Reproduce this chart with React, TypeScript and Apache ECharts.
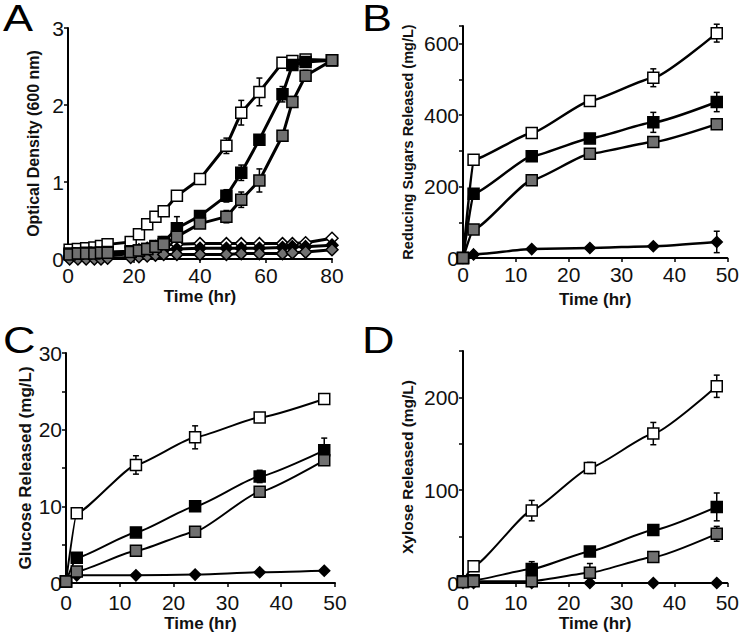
import React, { useEffect, useRef } from "react";
import * as echarts from "echarts";

const FONT = "Liberation Sans, Arial, Helvetica, sans-serif";

// ---------- Panel A: optical density ----------
const timeA = [0.5, 3, 5.5, 8, 10, 12, 19, 21.5, 24, 26.5, 29, 33, 40, 48, 52.5, 58, 65, 68, 72, 80];
const odOpenSq = [0.12, 0.13, 0.14, 0.15, 0.17, 0.19, 0.22, 0.32, 0.45, 0.55, 0.62, 0.82, 1.04, 1.47, 1.9, 2.17, 2.55, 2.57, 2.59, 2.58];
const odBlackSq = [0.07, 0.07, 0.08, 0.08, 0.08, 0.09, 0.1, 0.11, 0.13, 0.17, 0.22, 0.4, 0.56, 0.82, 1.12, 1.55, 2.14, 2.52, 2.56, 2.58];
const odGraySq = [0.06, 0.07, 0.07, 0.07, 0.08, 0.08, 0.09, 0.11, 0.13, 0.16, 0.19, 0.29, 0.46, 0.55, 0.77, 1.02, 1.6, 2.04, 2.38, 2.58];
const odOpenDia = [0.04, 0.04, 0.05, 0.05, 0.06, 0.06, 0.1, 0.12, 0.14, 0.16, 0.18, 0.19, 0.2, 0.2, 0.2, 0.2, 0.2, 0.2, 0.21, 0.27];
const odBlackDia = [0.02, 0.02, 0.03, 0.03, 0.03, 0.04, 0.07, 0.08, 0.1, 0.11, 0.12, 0.13, 0.14, 0.14, 0.14, 0.14, 0.15, 0.16, 0.16, 0.18];
const odGrayDia = [0, 0, 0, 0, 0, 0.01, 0.02, 0.03, 0.04, 0.05, 0.06, 0.06, 0.06, 0.06, 0.07, 0.07, 0.07, 0.08, 0.09, 0.12];
const odOpenSqErr = [0, 0, 0, 0, 0, 0, 0, 0, 0, 0, 0, 0.05, 0, 0.1, 0.16, 0.18, 0.05, 0.05, 0.05, 0];
const odBlackSqErr = [0, 0, 0, 0, 0, 0, 0, 0, 0, 0, 0, 0.15, 0.05, 0.08, 0.1, 0.05, 0.1, 0.05, 0.05, 0];
const odGraySqErr = [0, 0, 0, 0, 0, 0, 0, 0, 0, 0, 0.1, 0, 0, 0.08, 0.1, 0.15, 0, 0.07, 0.07, 0];

// ---------- Panels B, C, D: time points ----------
const timeBCD = [0, 2, 13, 24, 36, 48];

// B: reducing sugars (mg/L)
const rsOpenSq = [0, 275, 350, 440, 505, 630];
const rsBlackSq = [0, 180, 285, 335, 380, 437];
const rsGraySq = [0, 80, 218, 292, 325, 375];
const rsBlackDia = [0, 10, 25, 28, 33, 45];
const rsOpenSqErr = [0, 0, 0, 0, 25, 25];
const rsBlackSqErr = [0, 0, 0, 0, 28, 27];
const rsGraySqErr = [0, 0, 0, 0, 0, 8];
const rsBlackDiaErr = [0, 0, 0, 0, 0, 30];

// C: glucose (mg/L)
const glOpenSq = [0.2, 9.1, 15.4, 19.0, 21.6, 24.0];
const glBlackSq = [0.2, 3.3, 6.6, 10.0, 13.9, 17.3];
const glGraySq = [0.2, 1.5, 4.2, 6.7, 11.9, 16.0];
const glBlackDia = [0.2, 1.0, 1.0, 1.1, 1.4, 1.6];
const glOpenSqErr = [0, 0, 1.2, 1.5, 0, 0];
const glBlackSqErr = [0, 0, 0, 0, 0.8, 1.6];
const glGraySqErr = [0, 0, 0, 0, 0, 0.5];

// D: xylose (mg/L)
const xyOpenSq = [2, 18, 78, 124, 161, 212];
const xyBlackSq = [1, 3, 15, 34, 57, 82];
const xyGraySq = [1, 2, 2, 11, 28, 53];
const xyBlackDia = [0, 0, 0, 0, 0, 0];
const xyOpenSqErr = [0, 0, 11, 6, 12, 12];
const xyBlackSqErr = [0, 0, 8, 0, 3, 15];
const xyGraySqErr = [0, 0, 0, 10, 0, 8];

// axis titles
const yTitles = ["Optical Density (600 nm)", "Reducing Sugars Released (mg/L)", "Glucose Released (mg/L)", "Xylose Released (mg/L)"];
const xTitle = "Time (hr)";
const panelLetters = ["A", "B", "C", "D"];

const WHITE = "#ffffff";
const BLACK = "#000000";
const GRAY = "#707070";

function pairs(ts: number[], vs: number[]) {
  return ts.map((t, i) => [t, vs[i]]);
}

function lineSeries(idx: number, ts: number[], vs: number[], fill: string, symbol: string, size: number, lw: number, smooth: number | boolean) {
  return {
    type: "line",
    xAxisIndex: idx,
    yAxisIndex: idx,
    data: pairs(ts, vs),
    symbol,
    symbolSize: size,
    showSymbol: true,
    showAllSymbol: true,
    smooth,
    smoothMonotone: "x",
    silent: true,
    clip: false,
    z: 3,
    lineStyle: { color: BLACK, width: lw },
    itemStyle: { color: fill, borderColor: BLACK, borderWidth: 1.5, opacity: 1 },
    emphasis: { disabled: true },
  };
}

function errorSeries(idx: number, ts: number[], vs: number[], es: number[]) {
  return {
    type: "custom",
    xAxisIndex: idx,
    yAxisIndex: idx,
    silent: true,
    clip: false,
    z: 2,
    encode: { x: 0, y: 1 },
    data: ts.map((t, i) => [t, vs[i], es[i]]).filter((d) => d[2] > 0),
    renderItem: (params: any, api: any) => {
      const x = api.value(0);
      const y = api.value(1);
      const e = api.value(2);
      const top = api.coord([x, y + e]);
      const bot = api.coord([x, y - e]);
      const hw = 3;
      const st = { stroke: BLACK, lineWidth: 1.5 };
      return {
        type: "group",
        children: [
          { type: "line", shape: { x1: top[0], y1: top[1], x2: bot[0], y2: bot[1] }, style: st },
          { type: "line", shape: { x1: top[0] - hw, y1: top[1], x2: top[0] + hw, y2: top[1] }, style: st },
          { type: "line", shape: { x1: bot[0] - hw, y1: bot[1], x2: bot[0] + hw, y2: bot[1] }, style: st },
        ],
      };
    },
  };
}

function xAxis(idx: number, max: number, interval: number, margin: number, nameGap: number) {
  return {
    type: "value",
    gridIndex: idx,
    min: 0,
    max,
    interval,
    name: xTitle,
    nameLocation: "middle",
    nameGap,
    nameTextStyle: { fontFamily: FONT, fontWeight: "bold", fontSize: 17, color: "#111" },
    axisLine: { show: true, onZero: false, lineStyle: { color: BLACK, width: 2 } },
    axisTick: { show: true, length: 4, lineStyle: { color: BLACK, width: 1.5 } },
    axisLabel: { fontFamily: FONT, fontSize: 21, color: "#111", margin },
    splitLine: { show: false },
  };
}

function yAxis(idx: number, max: number, interval: number, labelStep: number, nameGap: number, nameSize: number) {
  return {
    type: "value",
    gridIndex: idx,
    min: 0,
    max,
    interval,
    name: yTitles[idx],
    nameLocation: "middle",
    nameGap,
    nameTextStyle: { fontFamily: FONT, fontWeight: "bold", fontSize: nameSize, color: "#111" },
    axisLine: { show: true, onZero: false, lineStyle: { color: BLACK, width: 2 } },
    axisTick: { show: true, length: 4, lineStyle: { color: BLACK, width: 1.5 } },
    axisLabel: {
      fontFamily: FONT,
      fontSize: 21,
      color: "#111",
      margin: 4,
      formatter: (v: number) => (Math.abs(v % labelStep) < 1e-9 ? String(v) : ""),
    },
    splitLine: { show: false },
  };
}

export default function App() {
  const ref = useRef<HTMLDivElement>(null);
  useEffect(() => {
    if (!ref.current) return;
    const chart = echarts.init(ref.current, undefined, { renderer: "svg" });
    const sq = 11;
    const dia = 12;
    const sm = 0.15;
    const option: any = {
      animation: false,
      backgroundColor: "#ffffff",
      textStyle: { fontFamily: FONT },
      grid: [
        { left: 68, top: 28, width: 264, height: 231 },
        { left: 463, top: 26, width: 265, height: 232 },
        { left: 66, top: 353, width: 269, height: 230 },
        { left: 463, top: 351, width: 265, height: 232 },
      ],
      xAxis: [
        xAxis(0, 80, 20, 6, 29),
        xAxis(1, 50, 10, 6, 33),
        xAxis(2, 50, 10, 9, 32),
        xAxis(3, 50, 10, 9, 32),
      ],
      yAxis: [
        yAxis(0, 3, 1, 1, 27, 16),
        yAxis(1, 650, 100, 200, 48, 14.5),
        yAxis(2, 30, 5, 10, 32, 17),
        yAxis(3, 250, 50, 100, 48, 15.5),
      ],
      graphic: panelLetters.map((t, i) => ({
        type: "text",
        x: i % 2 === 0 ? 3 : 362,
        y: i < 2 ? 19 : 341,
        scaleX: 1.25,
        silent: true,
        style: {
          text: t,
          fontFamily: FONT,
          fontSize: 36,
          fill: BLACK,
          verticalAlign: "middle",
          textVerticalAlign: "middle",
        },
      })),
      series: [
        // error bars
        errorSeries(0, timeA, odOpenSq, odOpenSqErr),
        errorSeries(0, timeA, odBlackSq, odBlackSqErr),
        errorSeries(0, timeA, odGraySq, odGraySqErr),
        errorSeries(1, timeBCD, rsOpenSq, rsOpenSqErr),
        errorSeries(1, timeBCD, rsBlackSq, rsBlackSqErr),
        errorSeries(1, timeBCD, rsGraySq, rsGraySqErr),
        errorSeries(1, timeBCD, rsBlackDia, rsBlackDiaErr),
        errorSeries(2, timeBCD, glOpenSq, glOpenSqErr),
        errorSeries(2, timeBCD, glBlackSq, glBlackSqErr),
        errorSeries(2, timeBCD, glGraySq, glGraySqErr),
        errorSeries(3, timeBCD, xyOpenSq, xyOpenSqErr),
        errorSeries(3, timeBCD, xyBlackSq, xyBlackSqErr),
        errorSeries(3, timeBCD, xyGraySq, xyGraySqErr),
        // Panel A
        lineSeries(0, timeA, odOpenDia, WHITE, "diamond", dia, 3, false),
        lineSeries(0, timeA, odBlackDia, BLACK, "diamond", dia, 3, false),
        lineSeries(0, timeA, odGrayDia, GRAY, "diamond", dia, 3, false),
        lineSeries(0, timeA, odOpenSq, WHITE, "rect", sq, 3, false),
        lineSeries(0, timeA, odBlackSq, BLACK, "rect", sq, 3, false),
        lineSeries(0, timeA, odGraySq, GRAY, "rect", sq, 3, false),
        // Panel B
        lineSeries(1, timeBCD, rsBlackDia, BLACK, "diamond", 11, 2.5, sm),
        lineSeries(1, timeBCD, rsOpenSq, WHITE, "rect", sq, 2.5, sm),
        lineSeries(1, timeBCD, rsBlackSq, BLACK, "rect", sq, 2.5, sm),
        lineSeries(1, timeBCD, rsGraySq, GRAY, "rect", sq, 2.5, sm),
        // Panel C
        lineSeries(2, timeBCD, glBlackDia, BLACK, "diamond", 11, 2, sm),
        lineSeries(2, timeBCD, glOpenSq, WHITE, "rect", sq, 2, sm),
        lineSeries(2, timeBCD, glBlackSq, BLACK, "rect", sq, 2, sm),
        lineSeries(2, timeBCD, glGraySq, GRAY, "rect", sq, 2, sm),
        // Panel D
        lineSeries(3, timeBCD, xyBlackDia, BLACK, "diamond", 11, 2, sm),
        lineSeries(3, timeBCD, xyOpenSq, WHITE, "rect", sq, 2, sm),
        lineSeries(3, timeBCD, xyBlackSq, BLACK, "rect", sq, 2, sm),
        lineSeries(3, timeBCD, xyGraySq, GRAY, "rect", sq, 2, sm),
      ],
    };
    chart.setOption(option);
    return () => chart.dispose();
  }, []);
  return <div ref={ref} style={{ position: "fixed", left: 0, top: 0, width: 742, height: 634, background: "#fff" }} />;
}
